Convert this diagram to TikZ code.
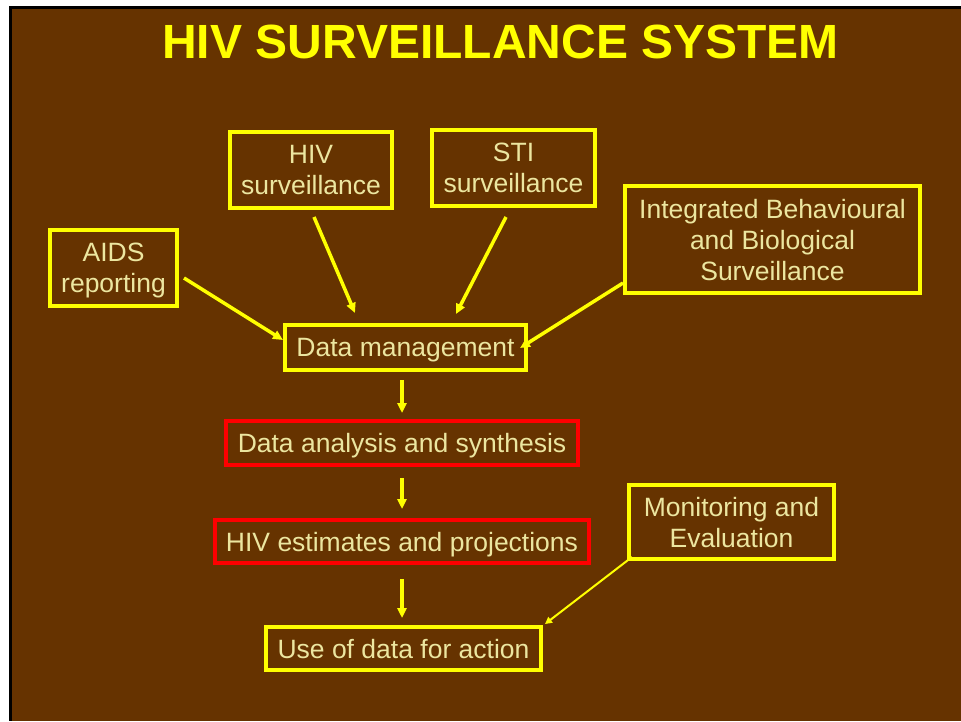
\documentclass[tikz,border=0pt]{standalone}
\usepackage{fontspec}
\setmainfont{Liberation Sans}
\usetikzlibrary{arrows.meta}
\definecolor{slidebrown}{RGB}{102,51,0}
\definecolor{slideyellow}{RGB}{255,255,0}
\definecolor{paleyellow}{RGB}{236,230,160}
\definecolor{slidered}{RGB}{255,0,0}
\tikzset{
  box/.style={draw=slideyellow,line width=4pt,outer sep=0pt,inner sep=0pt,
    align=center,text=paleyellow,text depth=0pt,font=\fontsize{26.5}{31}\selectfont},
  redbox/.style={box,draw=slidered},
  arr/.style={draw=slideyellow,line width=3.5pt,
    -{Triangle[length=10pt,width=9pt]}},
  thinarr/.style={draw=slideyellow,line width=2pt,
    -{Triangle[length=7pt,width=7pt]}}
}

\begin{document}
\begin{tikzpicture}[x=1pt,y=-1pt]
        \useasboundingbox (0,0) rectangle (961,721);
        % Slide
        \path [fill=white] (0,0) rectangle (961,721);
        \path [fill=black] (9,6) rectangle (961,721);
        \path [fill=slidebrown] (12,9) rectangle (961,721);

        % Title
        \node [anchor=base,text=slideyellow,font=\fontsize{48}{56}\selectfont\bfseries]
            (title) at (500.5,58) {HIV SURVEILLANCE SYSTEM};

        % Sources
        \node [box,minimum width=162,minimum height=76] (hivsurv) at (311,170) {HIV\\surveillance};
        \node [box,minimum width=163,minimum height=76] (stisurv) at (513.5,168) {STI\\surveillance};
        \node [box,minimum width=295,minimum height=107] (ibbs) at (772.5,239.5)
            {Integrated Behavioural\\and Biological\\Surveillance};
        \node [box,minimum width=127,minimum height=76] (aids) at (113.5,268) {AIDS\\reporting};

        % Chain
        \node [box,minimum width=241,minimum height=45] (datamgmt) at (405.5,347.5) {Data management};
        \node [redbox,minimum width=352,minimum height=44] (analysis) at (402,443) {Data analysis and synthesis};
        \node [redbox,minimum width=374,minimum height=43] (estimates) at (402,541.5) {HIV estimates and projections};
        \node [box,minimum width=275,minimum height=43] (useofdata) at (403.5,648.5) {Use of data for action};
        \node [box,minimum width=205,minimum height=74] (monitoring) at (731.5,522) {Monitoring and\\Evaluation};

        % Arrows
        \draw [arr] ([shift={(3,9)}]hivsurv.south) -- ([shift={(-50.5,-12)}]datamgmt.north);
        \draw [arr] ([shift={(-7.5,11)}]stisurv.south) -- ([shift={(50.5,-11)}]datamgmt.north);
        \draw [arr] ([shift={(7,10)}]aids.east) -- ([shift={(-2,-7.5)}]datamgmt.west);
        \draw [arr] ([shift={(-2,-10)}]ibbs.south west) -- ([shift={(-6,0.5)}]datamgmt.east);
        \draw [arr] ([shift={(0,10)}]datamgmt.south -| analysis.north) -- ([shift={(0,-8)}]analysis.north);
        \draw [arr] ([shift={(0,13)}]analysis.south) -- ([shift={(0,-11)}]estimates.north);
        \draw [arr] ([shift={(0,16)}]estimates.south) -- ([shift={(0,-9)}]estimates.south |- useofdata.north);
        \draw [thinarr] ([shift={(3,-2)}]monitoring.south west) -- ([shift={(4,-3)}]useofdata.north east);
\end{tikzpicture}
\end{document}
